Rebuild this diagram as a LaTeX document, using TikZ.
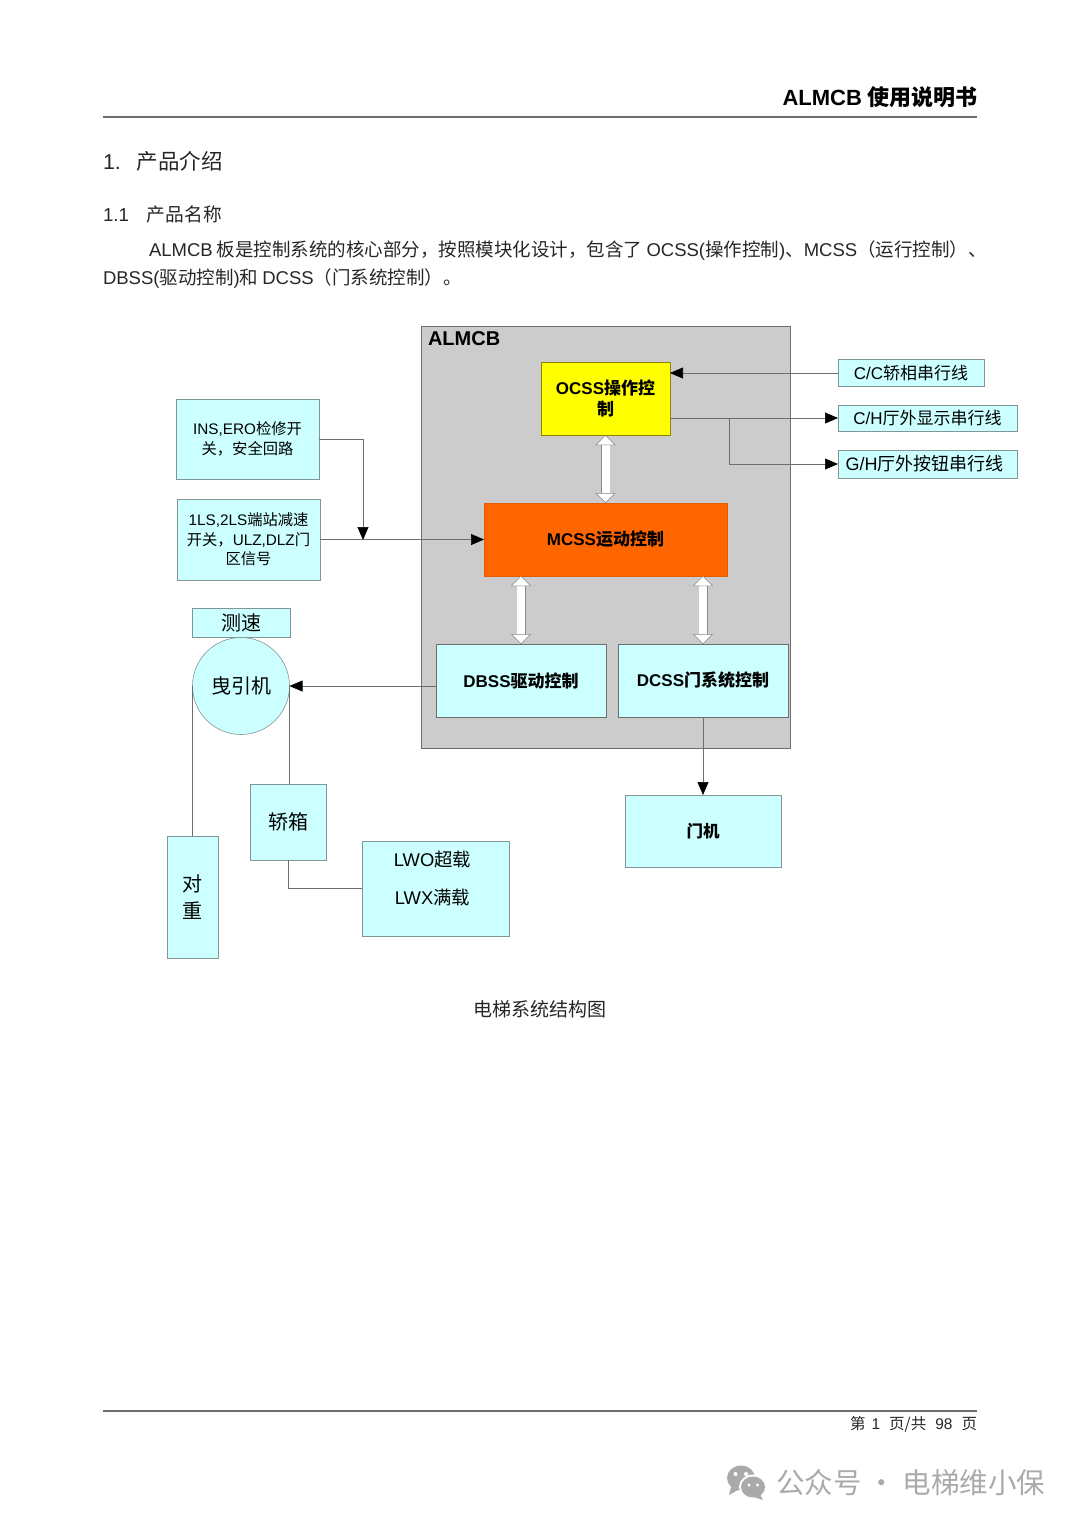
\documentclass[tikz,border=0pt]{standalone}
\usepackage{fontspec}
\usepackage{xcolor}
\usepackage{tikz}
\usetikzlibrary{arrows.meta, positioning, calc}
\setmainfont{Noto Sans CJK SC}
\newfontfamily\enfont{Liberation Sans}
\newcommand{\en}[1]{{\enfont #1}}
\definecolor{cCyan}{RGB}{204,255,255}
\definecolor{cBoard}{RGB}{204,204,204}
\definecolor{cOrange}{RGB}{255,102,0}
\definecolor{cYellow}{RGB}{255,255,0}
\definecolor{cLine}{RGB}{110,110,110}
\definecolor{cEdge}{RGB}{130,150,150}
\definecolor{cMark}{RGB}{170,170,170}
\tikzset{
	blk/.style     ={rectangle, draw=cEdge, fill=cCyan, line width=0.6pt, align=center, inner sep=1pt, outer sep=0pt, font=\fontsize{15.3}{19.5}\selectfont},
	ctrl/.style    ={blk, draw=cLine, font=\fontsize{17}{21}\selectfont\bfseries, minimum width=170pt, minimum height=73pt},
	sline/.style   ={blk, font=\fontsize{17}{22}\selectfont},
	big/.style     ={blk, font=\fontsize{20}{27}\selectfont},
	txt/.style     ={inner sep=0pt, outer sep=0pt, text=black!85},
	sig/.style     ={draw=cLine, line width=0.6pt, -{Triangle[length=13pt, width=11pt, black]}},
	wire/.style    ={draw=cLine, line width=0.6pt},
	bus/.style     ={draw=cLine!80, line width=0.5pt, double=white, double distance=8pt, {Triangle[length=10pt, width=20pt, fill=white]}-{Triangle[length=10pt, width=20pt, fill=white]}},
	rulel/.style   ={draw=cLine, line width=1.2pt},
}
\begin{document}
\begin{tikzpicture}[x=1pt, y=-1pt]
	\useasboundingbox (0,0) rectangle (1080,1527);
	% page head
	\node[txt, text=black, anchor=east, font=\fontsize{22}{26}\selectfont\bfseries] (head) at (977,97) {\en{ALMCB} 使用说明书};
	\coordinate (ruleAl) at (103,117);
	\coordinate (ruleAr) at (977,117);
	\draw[rulel] (ruleAl) -- (ruleAr);
	\node[txt, anchor=west, font=\fontsize{21.5}{24}\selectfont] (secA) at (103,161) {\en{1.}\hspace{16pt}产品介绍};
	\node[txt, anchor=west, font=\fontsize{18.7}{22}\selectfont] (secB) at (103,214) {\en{1.1}\hspace{18pt}产品名称};
	\node[txt, anchor=west, font=\fontsize{18.5}{22}\selectfont] (paraA) at (149,250.5) {\en{ALMCB} 板是控制系统的核心部分，按照模块化设计，包含了 \en{OCSS(}操作控制\en{)}、\en{MCSS}（运行控制）、};
	\node[txt, anchor=west, font=\fontsize{18.5}{22}\selectfont] (paraB) at (103,278.5) {\en{DBSS(}驱动控制\en{)}和 \en{DCSS}（门系统控制）。};

	% control board
	\node[rectangle, draw=cLine, fill=cBoard, line width=0.8pt, minimum width=369pt, minimum height=422pt, inner sep=0pt, outer sep=0pt] (almcb) at (605.5,537) {};
	\node[txt, text=black, anchor=west, font=\fontsize{20}{24}\selectfont\bfseries] (almcbT) at (428,339) {\en{ALMCB}};
	\node[blk, fill=cYellow, draw=olive, font=\fontsize{17}{21}\selectfont\bfseries, minimum width=129pt, minimum height=73pt] (ocss) at (605.5,398.5) {\en{OCSS}操作控\\制};
	\node[blk, fill=cOrange, draw=cOrange!90!black, font=\fontsize{17}{21}\selectfont\bfseries, minimum width=243pt, minimum height=73pt] (mcss) at (605.5,539.5) {\en{MCSS}运动控制};
	\node[ctrl] (dbss) at (521,680.5) {\en{DBSS}驱动控制};
	\node[ctrl] (dcss) at (703,680.5) {\en{DCSS}门系统控制};
	\node[blk, font=\fontsize{16.5}{21}\selectfont\bfseries, minimum width=156pt, minimum height=72pt] (door) at (703,831) {门机};

	% serial lines
	\node[sline, minimum width=146pt, minimum height=27pt] (cc) at (911,373) {\en{C/C}轿相串行线};
	\node[sline, minimum width=179pt, minimum height=26pt] (ch) at (927.5,418) {\en{C/H}厅外显示串行线};
	\node[sline, font=\fontsize{18}{22}\selectfont, minimum width=179pt, minimum height=28pt] (gh) at (927.5,464) {\en{G/H}厅外按钮串行线\hspace*{6pt}};

	% inputs
	\node[blk, minimum width=143pt, minimum height=80pt] (ins) at (247.5,439) {\en{INS,ERO}检修开\\关，安全回路};
	\node[blk, minimum width=143pt, minimum height=81pt] (ls) at (248.5,539.5) {\en{1LS,2LS}端站减速\\开关，\en{ULZ,DLZ}门\\区信号};

	% machine and car
	\node[big, minimum width=98pt, minimum height=29pt] (speed) at (241,622.5) {测速};
	\node[big, circle, minimum size=97pt] (motor) at (241,686) {曳引机};
	\node[big, minimum width=76pt, minimum height=76pt] (car) at (288,822) {轿箱};
	\node[big, minimum width=51pt, minimum height=122pt] (cwt) at (192.5,897) {对\\重};
	\node[sline, minimum width=147pt, minimum height=95pt, font=\fontsize{18.4}{37.5}\selectfont, text depth=22pt] (lwo) at (435.5,888.5) {\en{LWO}超载\hspace*{6pt}\\\en{LWX}满载\hspace*{6pt}};

	\coordinate (merge) at (363,540);
	\coordinate (tap) at (729,418);

	\draw[sig] (cc.west) -- (cc.west -| ocss.east);
	\draw[sig] (ch.west -| ocss.east) -- (ch.west);
	\draw[sig] (tap) |- (gh.west);
	\draw[sig] (ins.east) -| (merge);
	\draw[sig] (ls.east) -- (mcss.west);
	\draw[sig] (motor.east -| dbss.west) -- (motor.east);
	\draw[sig] (dcss.south) -- (door.north);
	\draw[wire] (motor.west) -- (cwt.north);
	\draw[wire] (motor.east) -- (motor.east |- car.north);
	\draw[wire] (car.south) |- (lwo.west);
	\draw[bus] (ocss.south) -- (mcss.north);
	\draw[bus] (dbss.north |- mcss.south) -- (dbss.north);
	\draw[bus] (dcss.north |- mcss.south) -- (dcss.north);

	\node[txt, font=\fontsize{19}{22}\selectfont] (caption) at (540,1009) {电梯系统结构图};

	% page foot
	\coordinate (ruleBl) at (103,1411);
	\coordinate (ruleBr) at (977,1411);
	\draw[rulel] (ruleBl) -- (ruleBr);
	\node[txt, anchor=east, font=\fontsize{15.5}{18}\selectfont] (foot) at (977,1424) {第\hspace{6pt}\en{1}\hspace{9pt}页/共\hspace{9pt}\en{98}\hspace{9pt}页};

	% watermark
	\fill[cMark] (741,1478) ellipse (14pt and 12.5pt);
	\fill[cMark] (731,1487) -- (729,1495) -- (738,1490) -- cycle;
	\fill[white] (753,1487) ellipse (14pt and 12.5pt);
	\fill[cMark] (753,1487) ellipse (12pt and 10.5pt);
	\fill[cMark] (760,1494) -- (763,1500) -- (754,1497) -- cycle;
	\fill[white] (735.5,1474) circle (2pt) (746,1474) circle (2pt) (749,1485) circle (1.6pt) (757.5,1485) circle (1.6pt);
	\node[txt, anchor=west, text=cMark, font=\fontsize{28.5}{32}\selectfont] (mark) at (776,1483) {公众号 · 电梯维小保};
\end{tikzpicture}
\end{document}
